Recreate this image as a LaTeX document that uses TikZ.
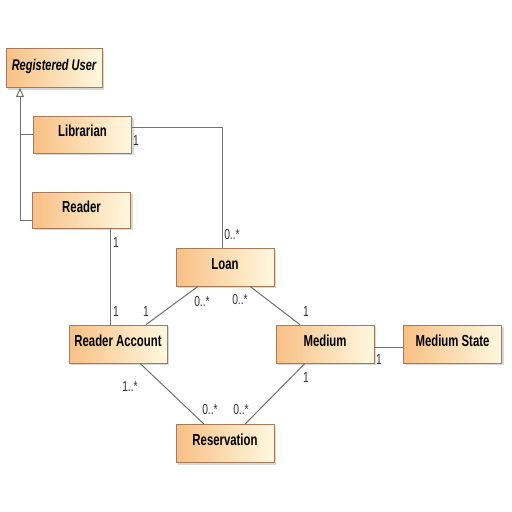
\documentclass[tikz,border=0pt]{standalone}
\usepackage{fontspec}
\setmainfont{Liberation Sans}[FakeStretch=0.71]
\usetikzlibrary{arrows.meta,shadows}
\definecolor{boxL}{HTML}{F8C084}
\definecolor{boxR}{HTML}{FFF8E0}
\definecolor{boxB}{HTML}{A47A5A}
\definecolor{lineC}{HTML}{707070}
\tikzset{
  cls/.style={draw=boxB, line width=0.7pt, left color=boxL, right color=boxR,
    minimum width=98pt, minimum height=38pt, inner sep=0pt,
    text height=11.5pt, text depth=7pt,
    font=\fontsize{16}{18}\selectfont\bfseries,
    drop shadow={shadow xshift=2pt, shadow yshift=-2pt, fill=black!25, opacity=0.6}},
  assoc/.style={draw=lineC, line width=1pt},
  mult/.style={font=\fontsize{14.5}{15}\selectfont, inner sep=0pt, text=black!80},
}
\begin{document}
\begin{tikzpicture}[x=1pt,y=-1pt]
\useasboundingbox (0,0) rectangle (512,512);
\fill[white] (0,0) rectangle (512,512);
% classes
\node[cls, minimum width=96pt, minimum height=39pt, font=\fontsize{15.5}{17}\selectfont\bfseries\itshape] (ru) at (54,68) {Registered User};
\node[cls, minimum height=37pt] (lib) at (82.5,134.5) {Librarian};
\node[cls, minimum height=36pt] (rd) at (81.5,210) {Reader};
\node[cls] (loan) at (225,267) {Loan};
\node[cls] (ra) at (118,344) {Reader Account};
\node[cls] (med) at (325,344) {Medium};
\node[cls] (ms) at (452.5,344) {Medium State};
\node[cls] (res) at (225,443.5) {Reservation};
% generalization
\coordinate (gj) at (20,220);
\draw[assoc, -{Triangle[open, length=9pt, width=8pt]}] (rd.west |- gj) -- (gj) -- (gj |- ru.south);
\draw[assoc] (lib.west) -- (lib.west -| gj);
% Librarian -- Loan
\coordinate (lk) at (222,127);
\draw[assoc] (lib.east |- lk) -- (lk) -- (lk |- loan.north);
\node[mult] at (136,141) {1};
\node[mult] at (232,235) {0..*};
% Reader -- Reader Account
\draw[assoc] (110,228) coordinate (rdb) -- (rdb |- ra.north);
\node[mult] at (116,243) {1};
\node[mult] at (116,312) {1};
% Loan -- Reader Account
\draw[assoc] ([xshift=-27pt]loan.south) -- ([xshift=28pt]ra.north);
\node[mult] at (146,312) {1};
\node[mult] at (202,302) {0..*};
% Loan -- Medium
\draw[assoc] ([xshift=25pt]loan.south) -- ([xshift=-25pt]med.north);
\node[mult] at (240,300) {0..*};
\node[mult] at (306,312) {1};
% Medium -- Medium State
\draw[assoc] ([yshift=-3pt]med.east) -- ([yshift=-3pt]ms.west);
\node[mult] at (379,360) {1};
% Reader Account -- Reservation
\draw[assoc] ([xshift=22pt]ra.south) -- ([xshift=-21pt]res.north);
\node[mult] at (130,387) {1..*};
\node[mult] at (210,410) {0..*};
% Medium -- Reservation
\draw[assoc] ([xshift=-20pt]med.south) -- ([xshift=20pt]res.north);
\node[mult] at (306,378) {1};
\node[mult] at (241,410) {0..*};
\end{tikzpicture}
\end{document}
